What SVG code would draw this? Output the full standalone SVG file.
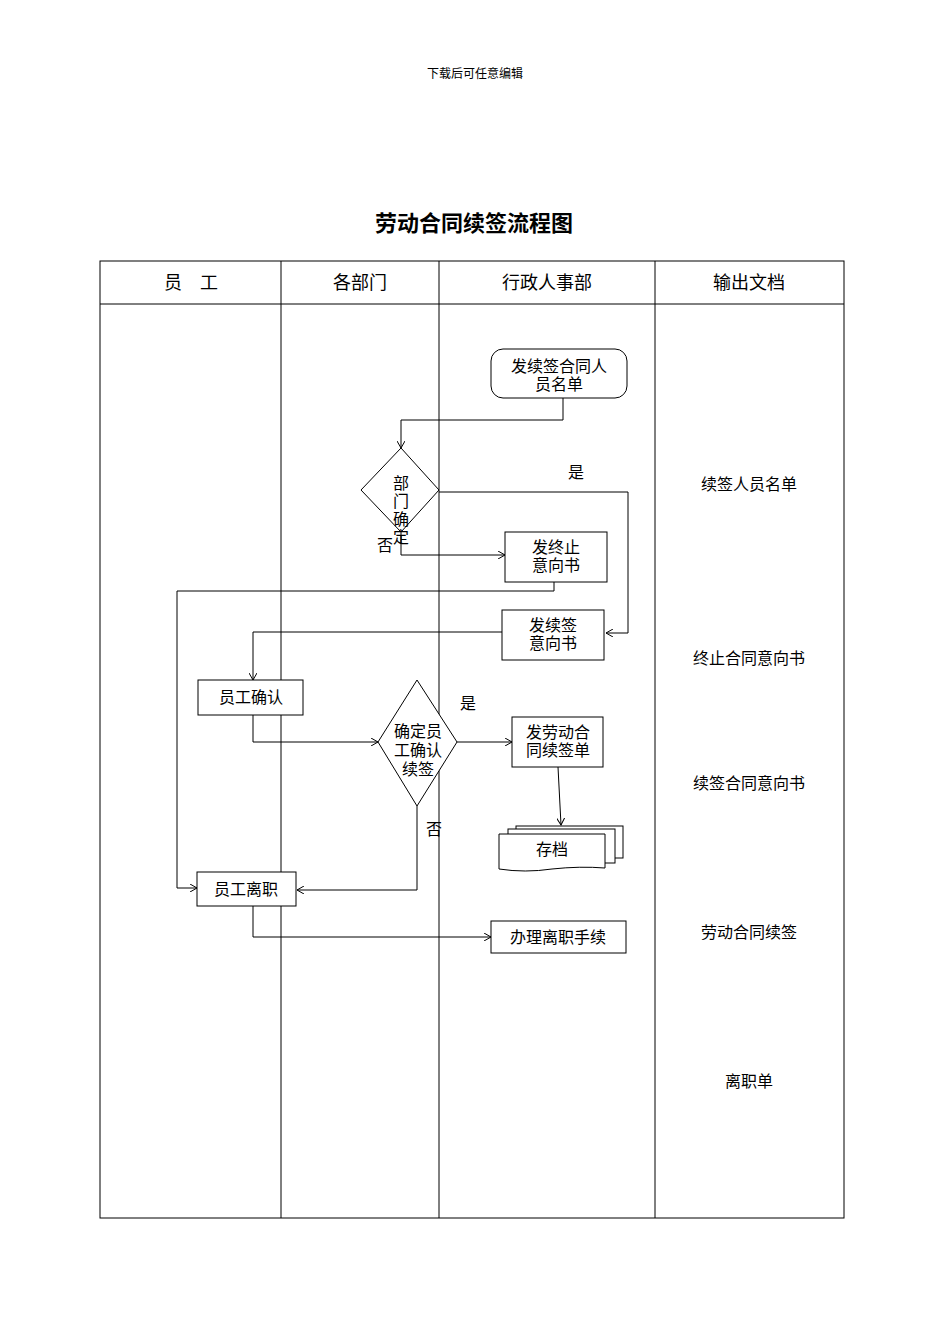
<svg xmlns="http://www.w3.org/2000/svg" width="950" height="1344" viewBox="0 0 950 1344">
<style>
text{font-family:"Liberation Serif","Noto Sans CJK SC",serif;fill:#000;text-anchor:middle}
.n{fill:#fff;stroke:#000;stroke-width:1}
.c{fill:none;stroke:#000;stroke-width:1}
.t{font-size:16px}
.h{font-size:18px}
</style>
<defs><marker id="a" markerWidth="8" markerHeight="8" refX="7" refY="4" orient="auto" markerUnits="userSpaceOnUse"><path d="M0,0 L7,4 L0,8" fill="none" stroke="#000"/></marker></defs>
<rect width="950" height="1344" fill="#fff"/>
<text x="475" y="78" style="font-size:12px">下载后可任意编辑</text>
<text x="474" y="231" style="font-size:22px;font-weight:bold">劳动合同续签流程图</text>
<g id="table" class="c">
<rect x="100" y="261" width="744" height="957"/>
<line x1="100" y1="304" x2="844" y2="304"/>
<line x1="281" y1="261" x2="281" y2="1218"/>
<line x1="439" y1="261" x2="439" y2="1218"/>
<line x1="655" y1="261" x2="655" y2="1218"/>
</g>
<g class="h"><text x="191" y="289">员　工</text><text x="360" y="289">各部门</text><text x="547" y="289">行政人事部</text><text x="749" y="289">输出文档</text></g>
<g id="connectors" class="c">
<path d="M563,398 V420 H401 V448" marker-end="url(#a)"/>
<path d="M439,492 H628 V633 H606" marker-end="url(#a)"/>
<path d="M401,530 V555 H505" marker-end="url(#a)"/>
<path d="M554,582 V591 H177 V888 H197" marker-end="url(#a)"/>
<path d="M502,632 H253 V680" marker-end="url(#a)"/>
<path d="M253,715 V742 H378" marker-end="url(#a)"/>
<path d="M457,742 H512" marker-end="url(#a)"/>
<path d="M558,767 L561,825" marker-end="url(#a)"/>
<path d="M417,806 V890 H297" marker-end="url(#a)"/>
<path d="M253,906 V937 H491" marker-end="url(#a)"/>
</g>
<g class="t">
<text x="576" y="478">是</text><text x="385" y="551">否</text>
<text x="468" y="709">是</text><text x="434" y="835">否</text>
</g>
<g id="n1"><rect class="n" x="491" y="349" width="136" height="49" rx="12"/><text class="t" x="559" y="372">发续签合同人</text><text class="t" x="559" y="390">员名单</text></g>
<g id="n2"><polygon class="n" points="401,448 439,490 401,532 361,490"/><text class="t" x="401" y="489">部</text><text class="t" x="401" y="507">门</text><text class="t" x="401" y="525">确</text><text class="t" x="401" y="543">定</text></g>
<g id="n3"><rect class="n" x="505" y="532" width="102" height="50"/><text class="t" x="556" y="553">发终止</text><text class="t" x="556" y="571">意向书</text></g>
<g id="n4"><rect class="n" x="502" y="610" width="102" height="50"/><text class="t" x="553" y="631">发续签</text><text class="t" x="553" y="649">意向书</text></g>
<g id="n5"><rect class="n" x="198" y="680" width="105" height="35"/><text class="t" x="251" y="703">员工确认</text></g>
<g id="n6"><polygon class="n" points="417,680 457,742 417,806 378,742"/><text class="t" x="418" y="737">确定员</text><text class="t" x="418" y="756">工确认</text><text class="t" x="418" y="775">续签</text></g>
<g id="n7"><rect class="n" x="512" y="717" width="91" height="50"/><text class="t" x="558" y="738">发劳动合</text><text class="t" x="558" y="756">同续签单</text></g>
<g id="n8"><rect class="n" x="516" y="826" width="107" height="32"/><rect class="n" x="508" y="829" width="107" height="34"/><path class="n" d="M499,834 H605 V868 Q580,866 552,869 Q525,873 499,869 Z"/><text class="t" x="552" y="855">存档</text></g>
<g id="n9"><rect class="n" x="197" y="872" width="99" height="34"/><text class="t" x="246" y="895">员工离职</text></g>
<g id="n10"><rect class="n" x="491" y="921" width="135" height="32"/><text class="t" x="558" y="943">办理离职手续</text></g>
<g class="t"><text x="749" y="490">续签人员名单</text><text x="749" y="664">终止合同意向书</text><text x="749" y="789">续签合同意向书</text><text x="749" y="938">劳动合同续签</text><text x="749" y="1087">离职单</text></g>
</svg>
